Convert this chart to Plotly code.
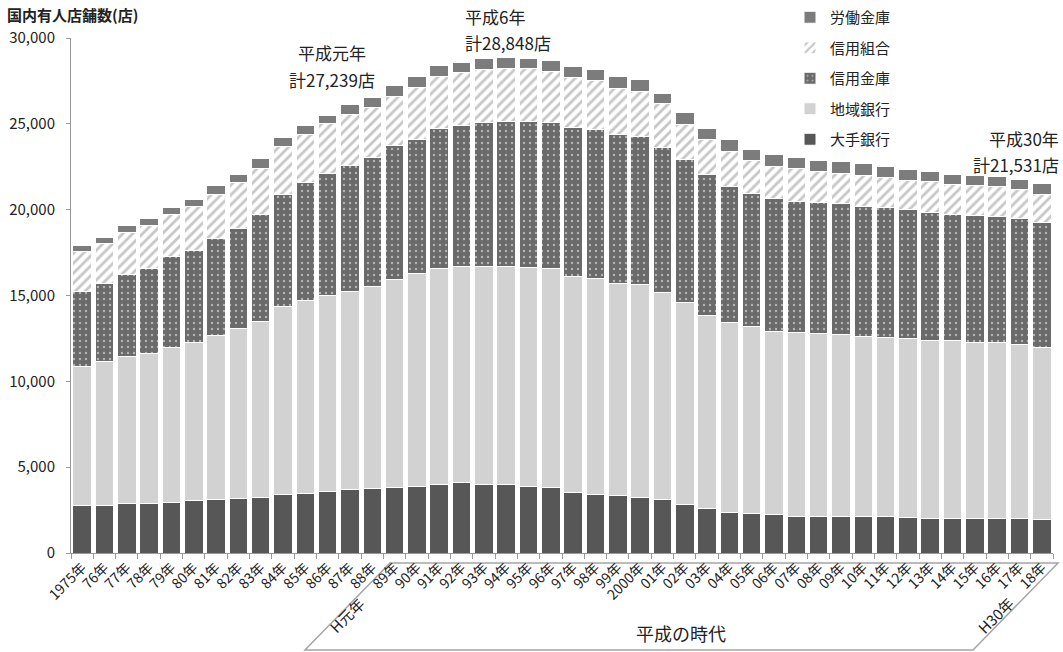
import plotly.graph_objects as go

# 年次ラベル(1975〜2018年)
years = ["1975年", "76年", "77年", "78年", "79年", "80年", "81年", "82年", "83年", "84年",
         "85年", "86年", "87年", "88年", "89年", "90年", "91年", "92年", "93年", "94年",
         "95年", "96年", "97年", "98年", "99年", "2000年", "01年", "02年", "03年", "04年",
         "05年", "06年", "07年", "08年", "09年", "10年", "11年", "12年", "13年", "14年",
         "15年", "16年", "17年", "18年"]

# 業態別の有人店舗数(店)
major_banks = [2760, 2770, 2860, 2860, 2960, 3050, 3090, 3150, 3250, 3390,
               3440, 3600, 3700, 3780, 3840, 3900, 3980, 4080, 3980, 3980,
               3900, 3800, 3540, 3400, 3350, 3250, 3090, 2800, 2570, 2370,
               2310, 2240, 2120, 2120, 2120, 2120, 2120, 2080, 2020, 2020,
               2020, 2020, 2020, 1980]
regional_banks = [8120, 8360, 8600, 8790, 9040, 9190, 9590, 9900, 10250, 10990,
                  11270, 11390, 11550, 11770, 12110, 12400, 12620, 12620, 12720, 12720,
                  12740, 12760, 12580, 12590, 12340, 12390, 12080, 11790, 11280, 11030,
                  10890, 10670, 10700, 10640, 10620, 10520, 10420, 10410, 10370, 10330,
                  10270, 10230, 10120, 10020]
shinkin_banks = [4370, 4570, 4780, 4950, 5260, 5410, 5650, 5860, 6190, 6500,
                 6870, 7130, 7330, 7480, 7780, 7790, 8130, 8230, 8370, 8440,
                 8500, 8540, 8660, 8690, 8700, 8610, 8460, 8340, 8200, 7970,
                 7750, 7740, 7680, 7680, 7620, 7570, 7570, 7520, 7470, 7390,
                 7390, 7370, 7350, 7250]
credit_unions = [2300, 2330, 2420, 2450, 2450, 2520, 2580, 2670, 2700, 2800,
                 2800, 2880, 2960, 2950, 2870, 3050, 3020, 3060, 3080, 3060,
                 3060, 2950, 2930, 2820, 2640, 2630, 2530, 2060, 2050, 2010,
                 1940, 1890, 1880, 1760, 1750, 1800, 1750, 1710, 1770, 1750,
                 1750, 1710, 1690, 1660]
labour_banks = [390, 350, 390, 440, 430, 430, 470, 460, 570, 500,
                540, 500, 560, 560, 639, 610, 660, 580, 640, 648,
                610, 640, 630, 640, 720, 720, 620, 680, 640, 680,
                640, 700, 670, 650, 680, 690, 640, 640, 580, 560,
                570, 590, 580, 621]

y_ticks = [0, 5000, 10000, 15000, 20000, 25000, 30000]

FONT = "Noto Sans CJK JP"

series = [
    ("大手銀行", major_banks, dict(color="#575757")),
    ("地域銀行", regional_banks, dict(color="#d2d2d2")),
    ("信用金庫", shinkin_banks, dict(color="#6a6a6a",
                                  pattern=dict(shape=".", fgcolor="#ffffff", bgcolor="#6a6a6a",
                                               size=6, solidity=0.12))),
    ("信用組合", credit_unions, dict(color="#ffffff",
                                  pattern=dict(shape="/", fgcolor="#8f8f8f", bgcolor="#ffffff",
                                               size=7, solidity=0.4))),
    ("労働金庫", labour_banks, dict(color="#7c7c7c")),
]

fig = go.Figure()
for i, (name, vals, mk) in enumerate(series):
    fig.add_trace(go.Bar(
        x=years, y=vals, name=name, legendgroup=f"g{i}", legendrank=100 - i,
        marker=dict(line=dict(color="#ffffff", width=1), **mk),
    ))

totals = [sum(v) for v in zip(major_banks, regional_banks, shinkin_banks, credit_unions, labour_banks)]


def total_text(year_label):
    return f"計{totals[years.index(year_label)]:,}店"


# プロット領域(ピクセル)とpaper座標への換算
W, H = 1063, 652
PLOT_L, PLOT_W = 71, 982
PLOT_B, PLOT_H = 553, 515


def px(xp):
    return (xp - PLOT_L) / PLOT_W


def py(yp):
    return (PLOT_B - yp) / PLOT_H


# 平成の時代を示す枠
bracket = (f"M {px(390)},{py(563)} L {px(1058)},{py(563)} "
           f"L {px(973)},{py(650)} L {px(305)},{py(650)} Z")

fig.update_layout(
    width=W, height=H,
    margin=dict(l=PLOT_L, r=W - PLOT_L - PLOT_W, t=PLOT_B - PLOT_H, b=H - PLOT_B,
                autoexpand=False),
    paper_bgcolor="#ffffff", plot_bgcolor="#ffffff",
    barmode="stack", bargap=0.17,
    font=dict(family=FONT, color="#222222", size=13),
    legend=dict(traceorder="grouped", tracegroupgap=8,
                x=px(790), y=py(1), xanchor="left", yanchor="top",
                font=dict(size=15, family=FONT, color="#222222"),
                bgcolor="rgba(0,0,0,0)", itemwidth=30),
    xaxis=dict(type="category", tickangle=-45, tickson="boundaries",
               ticks="outside", ticklen=5, tickcolor="#999999",
               showline=True, linecolor="#999999", linewidth=1,
               tickfont=dict(size=14, family=FONT, color="#222222"),
               showgrid=False),
    yaxis=dict(range=[0, 30000], tickvals=y_ticks, tickformat=",",
               ticks="outside", ticklen=4, tickcolor="#999999",
               ticklabelstandoff=8,
               showline=True, linecolor="#999999", linewidth=1,
               showgrid=False, zeroline=False,
               tickfont=dict(size=15, family=FONT, color="#222222")),
    shapes=[dict(type="path", path=bracket, xref="paper", yref="paper",
                 line=dict(color="#a5a5a5", width=1.5), layer="below")],
)

annotations = [
    dict(text="<b>国内有人店舗数(店)</b>", x=px(5), y=py(15), xanchor="left", yanchor="middle",
         font=dict(size=15)),
    dict(text="平成元年", x=px(332), y=py(53), xanchor="center", yanchor="middle",
         font=dict(size=17)),
    dict(text=total_text("89年"), x=px(332), y=py(79), xanchor="center", yanchor="middle",
         font=dict(size=17)),
    dict(text="平成6年", x=px(463), y=py(16), xanchor="left", yanchor="middle",
         font=dict(size=17)),
    dict(text=total_text("94年"), x=px(463), y=py(42), xanchor="left", yanchor="middle",
         font=dict(size=17)),
    dict(text="平成30年", x=px(1061), y=py(138), xanchor="right", yanchor="middle",
         font=dict(size=17)),
    dict(text=total_text("18年"), x=px(1061), y=py(164), xanchor="right", yanchor="middle",
         font=dict(size=17)),
    dict(text="H元年", x=px(346), y=py(615), textangle=-45, xanchor="center", yanchor="middle",
         font=dict(size=15)),
    dict(text="H30年", x=px(995), y=py(615), textangle=-45, xanchor="center", yanchor="middle",
         font=dict(size=15)),
    dict(text="平成の時代", x=px(681), y=py(633), xanchor="center", yanchor="middle",
         font=dict(size=18)),
]
for a in annotations:
    a.update(xref="paper", yref="paper", showarrow=False)
fig.update_layout(annotations=annotations)

fig.write_html("out.html")
